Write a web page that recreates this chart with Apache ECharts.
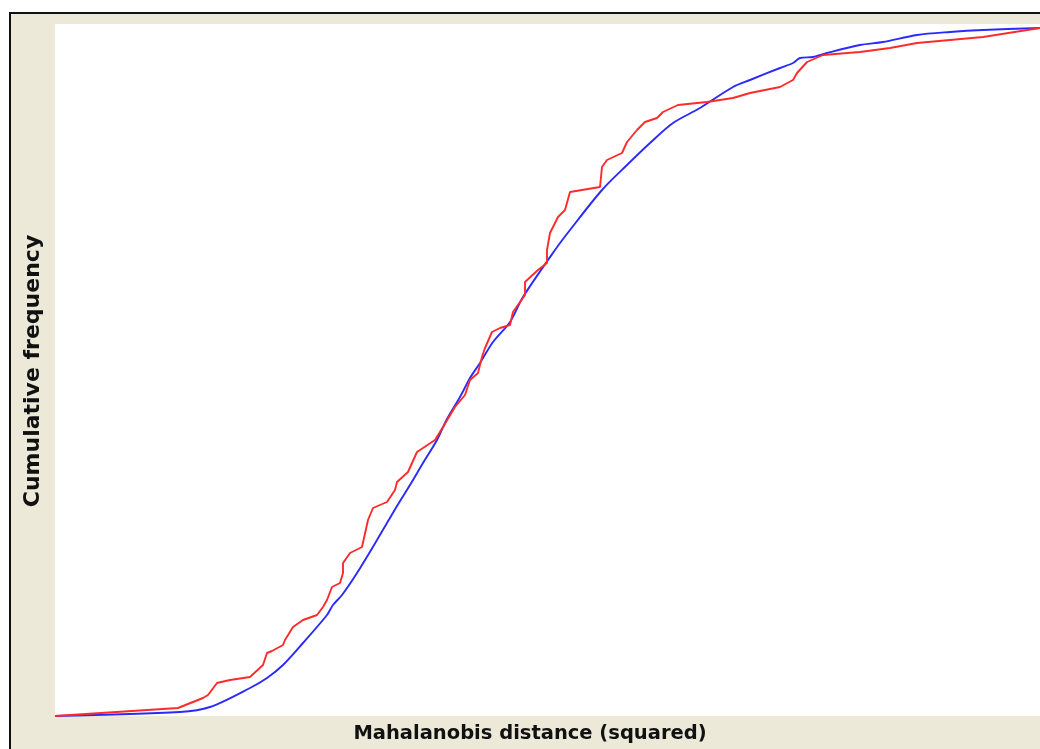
<!DOCTYPE html>
<html>
<head>
<meta charset="utf-8">
<title>Cumulative frequency vs Mahalanobis distance</title>
<script src="https://cdn.jsdelivr.net/npm/echarts@6/dist/echarts.min.js"></script>
<style>
  html, body { margin: 0; padding: 0; background: #fff; }
  #frame {
    position: absolute; left: 9px; top: 12px; width: 1100px; height: 800px;
    background: #ECE9D8; border-top: 2px solid #111; border-left: 2px solid #111;
  }
  #chart { position: absolute; left: 0; top: 0; width: 1040px; height: 749px; }
</style>
</head>
<body>
<div id="frame"></div>
<div id="chart"></div>
<script>
// observed (sample) curve: distance squared, cumulative count
const observedDist = [0, 2.46, 2.96, 3.06, 3.24, 3.5, 3.9, 4.16, 4.24, 4.34, 4.56, 4.6, 4.76, 4.96, 5.24, 5.36, 5.44,
  5.54, 5.7, 5.76, 5.76, 5.9, 6.14, 6.26, 6.36, 6.64, 6.8, 6.84, 7.06, 7.24, 7.6, 7.76, 8, 8.2, 8.3, 8.46,
  8.54, 8.6, 8.74, 8.9, 9.1, 9.16, 9.4, 9.4, 9.66, 9.84, 9.84, 9.9, 10.06, 10.2, 10.3, 10.9, 10.94, 11.04,
  11.34, 11.44, 11.64, 11.8, 12.04, 12.16, 12.46, 13.04, 13.56, 13.9, 14.5, 14.76, 14.84, 15.04, 15.36,
  16.1, 16.7, 17.24, 18.56, 19.7]
const observedFreq = [0, 8, 18, 21, 33, 36, 39, 51, 63, 65, 71, 76, 89, 96, 101, 109, 116,
  129, 133, 143, 153, 163, 169, 196, 208, 214, 226, 234, 244, 264, 276, 289, 309, 321, 336, 343,
  359, 368, 384, 388, 391, 404, 421, 434, 446, 453, 466, 483, 499, 506, 524, 529, 549, 556,
  563, 574, 586, 594, 598, 604, 611, 614, 618, 623, 629, 636, 643, 654, 661,
  664, 668, 673, 679, 688]

// expected (theoretical) curve
const expectedDist = [0, 2.5, 3.1, 3.9, 4.24, 4.56, 4.96, 5.44, 5.56, 5.74, 6.04, 6.44, 6.84, 7.1, 7.36, 7.64,
  7.84, 8.1, 8.3, 8.5, 8.76, 9.1, 9.36, 10, 10.3, 10.94, 11.44, 11.9, 12.36, 12.9, 13.56, 13.9, 14.5,
  14.76, 14.9, 15.16, 15.44, 16.1, 16.56, 17.24, 17.9, 18.56, 19.7]
const expectedFreq = [0, 4, 9, 28, 38, 51, 73, 101, 111, 121, 143, 176, 210, 231, 253, 276,
  297, 319, 338, 353, 374, 394, 419, 466, 486, 526, 551, 573, 593, 608, 629, 636, 648,
  653, 658, 659, 663, 671, 674, 681, 684, 686, 688]

const xMax = 19.7
const yMax = 692

function pairs(xs, ys) {
  return xs.map((x, i) => [x, ys[i]])
}

const myChart = echarts.init(document.getElementById('chart'))
const option = {
  animation: false,
  grid: {
    left: 55, top: 24, right: 0, bottom: 33,
    show: true, backgroundColor: '#fff', borderWidth: 0
  },
  xAxis: {
    type: 'value', min: 0, max: xMax,
    axisLine: { show: false }, axisTick: { show: false },
    axisLabel: { show: false }, splitLine: { show: false }
  },
  yAxis: {
    type: 'value', min: 0, max: yMax,
    axisLine: { show: false }, axisTick: { show: false },
    axisLabel: { show: false }, splitLine: { show: false }
  },
  graphic: [
    {
      type: 'text', x: 530, y: 734,
      style: {
        text: 'Mahalanobis distance (squared)',
        font: 'bold 19.5px "DejaVu Sans"', fill: '#111',
        align: 'center', verticalAlign: 'middle'
      }
    },
    {
      type: 'text', x: 33, y: 371, rotation: Math.PI / 2,
      style: {
        text: 'Cumulative frequency',
        font: 'bold 22px "DejaVu Sans"', fill: '#111',
        align: 'center', verticalAlign: 'middle'
      }
    }
  ],
  series: [
    {
      name: 'Expected',
      type: 'line',
      showSymbol: false,
      smooth: 0.3,
      data: pairs(expectedDist, expectedFreq),
      lineStyle: { color: '#2a2aff', width: 1.9 },
      z: 2
    },
    {
      name: 'Observed',
      type: 'line',
      showSymbol: false,
      data: pairs(observedDist, observedFreq),
      lineStyle: { color: '#ff2a2a', width: 1.9 },
      z: 3
    }
  ]
}
myChart.setOption(option)
</script>
</body>
</html>
